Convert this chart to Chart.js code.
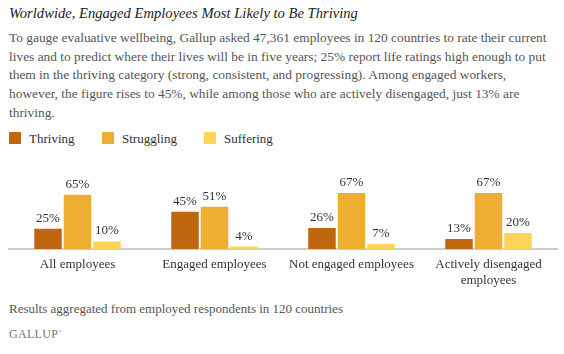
<!DOCTYPE html>
<html>
<head>
<meta charset="utf-8">
<script src="https://cdn.jsdelivr.net/npm/chart.js@4.4.0/dist/chart.umd.min.js"></script>
<style>
    body { margin: 0; width: 564px; height: 354px; background: #fff; position: relative; overflow: hidden; font-family: "Liberation Serif", "DejaVu Serif", serif; }
    .abs { position: absolute; white-space: nowrap; }
    #title { left: 9px; top: 5px; font-size: 14.6px; font-style: italic; color: #222; }
    #intro { left: 9px; top: 29px; font-size: 13.4px; line-height: 18.7px; color: #555; }
    .legend-item { position: absolute; top: 131px; font-size: 13px; color: #333; }
    .legend-item span { display: inline-block; width: 12px; height: 12px; vertical-align: -1px; margin-right: 8px; }
    #footer { left: 9px; top: 301px; font-size: 13px; color: #555; }
    #logo { left: 9px; top: 327px; font-size: 12px; color: #777; letter-spacing: 0.3px; }
    #chartWrap { position: absolute; left: 0; top: 150px; width: 564px; height: 150px; }
</style>
</head>
<body>
<div id="title" class="abs">Worldwide, Engaged Employees Most Likely to Be Thriving</div>
<div id="intro" class="abs">To gauge evaluative wellbeing, Gallup asked 47,361 employees in 120 countries to rate their current<br>lives and to predict where their lives will be in five years; 25% report life ratings high enough to put<br>them in the thriving category (strong, consistent, and progressing). Among engaged workers,<br>however, the figure rises to 45%, while among those who are actively disengaged, just 13% are<br>thriving.</div>
<div id="legend"></div>
<div id="chartWrap"><canvas id="wellbeingChart"></canvas></div>
<div id="footer" class="abs">Results aggregated from employed respondents in 120 countries</div>
<div id="logo" class="abs">GALLUP<sup style="font-size:5px">&reg;</sup></div>

<script>
// Chart data
const categories = ['All employees', 'Engaged employees', 'Not engaged employees', ['Actively disengaged', 'employees']];
const seriesNames = ['Thriving', 'Struggling', 'Suffering'];
const thriving = [25, 45, 26, 13];
const struggling = [65, 51, 67, 67];
const suffering = [10, 4, 7, 20];

const seriesColors = ['#bf6610', '#edae31', '#fdd455'];
const legendOffsets = [9, 102, 204];

// Build the legend
const legend = document.getElementById('legend');
seriesNames.forEach((name, i) => {
    const item = document.createElement('div');
    item.className = 'legend-item';
    item.style.left = legendOffsets[i] + 'px';
    item.innerHTML = `<span style="background:${seriesColors[i]}"></span>${name}`;
    legend.appendChild(item);
});

// Value labels above each bar
const valueLabels = {
    id: 'valueLabels',
    afterDatasetsDraw(chart) {
        const ctx = chart.ctx;
        ctx.save();
        ctx.font = '13px "Liberation Serif", serif';
        ctx.fillStyle = '#333';
        ctx.textAlign = 'center';
        ctx.textBaseline = 'bottom';
        chart.data.datasets.forEach((ds, i) => {
            chart.getDatasetMeta(i).data.forEach((bar, j) => {
                ctx.fillText(ds.data[j] + '%', bar.x, bar.y - 3);
            });
        });
        ctx.restore();
    }
};

const seriesData = [thriving, struggling, suffering];

new Chart(document.getElementById('wellbeingChart'), {
    type: 'bar',
    data: {
        labels: categories,
        datasets: seriesNames.map((name, i) => ({
            label: name,
            data: seriesData[i],
            backgroundColor: seriesColors[i],
            borderColor: 'rgba(255,255,255,0.5)',
            borderWidth: 1,
            barPercentage: 1,
            categoryPercentage: 0.646
        }))
    },
    options: {
        responsive: true,
        maintainAspectRatio: false,
        animation: false,
        layout: { padding: { left: 9, right: 7, top: 14, bottom: 0 } },
        scales: {
            x: {
                grid: { display: false },
                border: { color: '#cccccc', width: 2 },
                ticks: {
                    color: '#333',
                    padding: 0,
                    maxRotation: 0,
                    font: { family: '"Liberation Serif", serif', size: 13, lineHeight: 1.23 }
                },
                afterFit: scale => { scale.height = 51; }
            },
            y: {
                display: false,
                min: 0,
                max: 100
            }
        },
        plugins: {
            legend: { display: false },
            tooltip: { enabled: false }
        }
    },
    plugins: [valueLabels]
});
</script>
</body>
</html>
